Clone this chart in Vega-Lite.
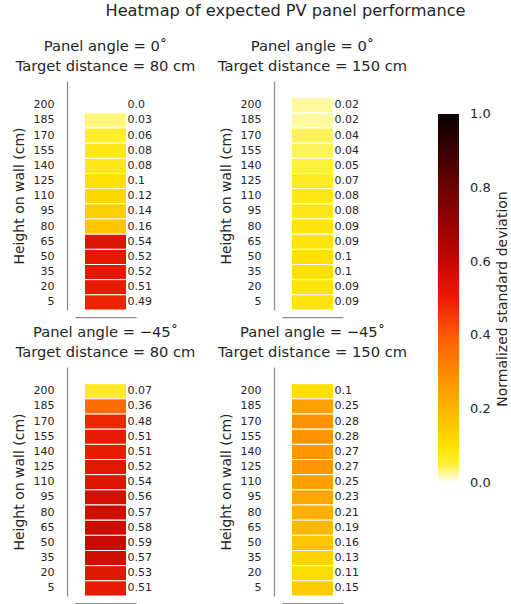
{
  "$schema": "https://vega.github.io/schema/vega-lite/v6.json",
  "background": "white",
  "padding": {"left": 12, "top": 3, "right": 5, "bottom": 5},
  "title": {"text": "Heatmap of expected PV panel performance", "fontSize": 16.2, "font": "DejaVu Sans", "fontWeight": "normal", "color": "#262626", "anchor": "middle", "offset": 20, "dx": 24},
  "datasets": {
    "pv": [
      {"angle": 0, "distance": 80, "height": 200, "nsd": 0.0, "label": "0.0"},
      {"angle": 0, "distance": 80, "height": 185, "nsd": 0.03, "label": "0.03"},
      {"angle": 0, "distance": 80, "height": 170, "nsd": 0.06, "label": "0.06"},
      {"angle": 0, "distance": 80, "height": 155, "nsd": 0.08, "label": "0.08"},
      {"angle": 0, "distance": 80, "height": 140, "nsd": 0.08, "label": "0.08"},
      {"angle": 0, "distance": 80, "height": 125, "nsd": 0.1, "label": "0.1"},
      {"angle": 0, "distance": 80, "height": 110, "nsd": 0.12, "label": "0.12"},
      {"angle": 0, "distance": 80, "height": 95, "nsd": 0.14, "label": "0.14"},
      {"angle": 0, "distance": 80, "height": 80, "nsd": 0.16, "label": "0.16"},
      {"angle": 0, "distance": 80, "height": 65, "nsd": 0.54, "label": "0.54"},
      {"angle": 0, "distance": 80, "height": 50, "nsd": 0.52, "label": "0.52"},
      {"angle": 0, "distance": 80, "height": 35, "nsd": 0.52, "label": "0.52"},
      {"angle": 0, "distance": 80, "height": 20, "nsd": 0.51, "label": "0.51"},
      {"angle": 0, "distance": 80, "height": 5, "nsd": 0.49, "label": "0.49"},
      {"angle": 0, "distance": 150, "height": 200, "nsd": 0.02, "label": "0.02"},
      {"angle": 0, "distance": 150, "height": 185, "nsd": 0.02, "label": "0.02"},
      {"angle": 0, "distance": 150, "height": 170, "nsd": 0.04, "label": "0.04"},
      {"angle": 0, "distance": 150, "height": 155, "nsd": 0.04, "label": "0.04"},
      {"angle": 0, "distance": 150, "height": 140, "nsd": 0.05, "label": "0.05"},
      {"angle": 0, "distance": 150, "height": 125, "nsd": 0.07, "label": "0.07"},
      {"angle": 0, "distance": 150, "height": 110, "nsd": 0.08, "label": "0.08"},
      {"angle": 0, "distance": 150, "height": 95, "nsd": 0.08, "label": "0.08"},
      {"angle": 0, "distance": 150, "height": 80, "nsd": 0.09, "label": "0.09"},
      {"angle": 0, "distance": 150, "height": 65, "nsd": 0.09, "label": "0.09"},
      {"angle": 0, "distance": 150, "height": 50, "nsd": 0.1, "label": "0.1"},
      {"angle": 0, "distance": 150, "height": 35, "nsd": 0.1, "label": "0.1"},
      {"angle": 0, "distance": 150, "height": 20, "nsd": 0.09, "label": "0.09"},
      {"angle": 0, "distance": 150, "height": 5, "nsd": 0.09, "label": "0.09"},
      {"angle": -45, "distance": 80, "height": 200, "nsd": 0.07, "label": "0.07"},
      {"angle": -45, "distance": 80, "height": 185, "nsd": 0.36, "label": "0.36"},
      {"angle": -45, "distance": 80, "height": 170, "nsd": 0.48, "label": "0.48"},
      {"angle": -45, "distance": 80, "height": 155, "nsd": 0.51, "label": "0.51"},
      {"angle": -45, "distance": 80, "height": 140, "nsd": 0.51, "label": "0.51"},
      {"angle": -45, "distance": 80, "height": 125, "nsd": 0.52, "label": "0.52"},
      {"angle": -45, "distance": 80, "height": 110, "nsd": 0.54, "label": "0.54"},
      {"angle": -45, "distance": 80, "height": 95, "nsd": 0.56, "label": "0.56"},
      {"angle": -45, "distance": 80, "height": 80, "nsd": 0.57, "label": "0.57"},
      {"angle": -45, "distance": 80, "height": 65, "nsd": 0.58, "label": "0.58"},
      {"angle": -45, "distance": 80, "height": 50, "nsd": 0.59, "label": "0.59"},
      {"angle": -45, "distance": 80, "height": 35, "nsd": 0.57, "label": "0.57"},
      {"angle": -45, "distance": 80, "height": 20, "nsd": 0.53, "label": "0.53"},
      {"angle": -45, "distance": 80, "height": 5, "nsd": 0.51, "label": "0.51"},
      {"angle": -45, "distance": 150, "height": 200, "nsd": 0.1, "label": "0.1"},
      {"angle": -45, "distance": 150, "height": 185, "nsd": 0.25, "label": "0.25"},
      {"angle": -45, "distance": 150, "height": 170, "nsd": 0.28, "label": "0.28"},
      {"angle": -45, "distance": 150, "height": 155, "nsd": 0.28, "label": "0.28"},
      {"angle": -45, "distance": 150, "height": 140, "nsd": 0.27, "label": "0.27"},
      {"angle": -45, "distance": 150, "height": 125, "nsd": 0.27, "label": "0.27"},
      {"angle": -45, "distance": 150, "height": 110, "nsd": 0.25, "label": "0.25"},
      {"angle": -45, "distance": 150, "height": 95, "nsd": 0.23, "label": "0.23"},
      {"angle": -45, "distance": 150, "height": 80, "nsd": 0.21, "label": "0.21"},
      {"angle": -45, "distance": 150, "height": 65, "nsd": 0.19, "label": "0.19"},
      {"angle": -45, "distance": 150, "height": 50, "nsd": 0.16, "label": "0.16"},
      {"angle": -45, "distance": 150, "height": 35, "nsd": 0.13, "label": "0.13"},
      {"angle": -45, "distance": 150, "height": 20, "nsd": 0.11, "label": "0.11"},
      {"angle": -45, "distance": 150, "height": 5, "nsd": 0.15, "label": "0.15"}
    ]
  },
  "data": {"name": "pv"},
  "columns": 2,
  "spacing": {"row": 57, "column": 146},
  "bounds": "flush",
  "resolve": {"scale": {"color": "shared"}},
  "concat": [
    {
      "title": {"text": ["Panel angle = 0˚", "Target distance = 80 cm"]},
      "width": 61, "height": 229,
      "transform": [{"filter": "datum.angle == 0 && datum.distance == 80"}],
      "encoding": {
        "y": {"field": "height", "type": "ordinal", "sort": "descending", "scale": {"paddingInner": 0, "paddingOuter": 0.55, "align": 1}, "axis": {"title": "Height on wall (cm)"}},
        "x": {"datum": "PV", "type": "nominal", "scale": {"paddingInner": 0, "paddingOuter": 0.226}, "axis": {"labels": false, "title": null}}
      },
      "layer": [
        {"mark": {"type": "rect", "stroke": "white", "strokeWidth": 1},
         "encoding": {"color": {"field": "nsd", "type": "quantitative",
           "scale": {"type": "linear", "interpolate": "rgb",
             "domain": [0, 0.02, 0.05, 0.1, 0.2, 0.3, 0.4, 0.5, 0.6, 0.7, 0.8, 0.9, 1],
             "range": ["#ffffff", "#fff9a0", "#fff03a", "#ffe000", "#ffb300", "#ff8a00", "#ff5a00", "#ec1c00", "#c40800", "#980000", "#6c0000", "#3a0000", "#0a0000"]},
           "legend": {"type": "gradient", "direction": "vertical", "orient": "none", "legendX": 363, "legendY": 33,
             "gradientLength": 369, "gradientThickness": 21, "gradientStrokeWidth": 0,
             "values": [0, 0.2, 0.4, 0.6, 0.8, 1], "format": ".1f", "labelFontSize": 13, "labelColor": "#262626", "labelFont": "DejaVu Sans", "labelOffset": 11, "labelBaseline": "middle",
             "title": "Normalized standard deviation", "titleOrient": "right", "titleAnchor": "middle", "titleFontSize": 14, "titleFontWeight": "normal", "titleColor": "#262626", "titleFont": "DejaVu Sans", "titlePadding": 5, "titleLimit": 500,
             "encode": {"title": {"update": {"angle": {"value": 270}, "baseline": {"value": "top"}}}, "labels": {"update": {"baseline": {"value": "middle"}}}}}}}},
        {"mark": {"type": "text", "align": "left", "baseline": "middle", "dx": 1, "fontSize": 11, "font": "DejaVu Sans", "color": "#262626"},
         "encoding": {"x": {"datum": "PV", "type": "nominal", "bandPosition": 1}, "text": {"field": "label"}}}
      ]
    },
    {
      "title": {"text": ["Panel angle = 0˚", "Target distance = 150 cm"]},
      "width": 61, "height": 229,
      "transform": [{"filter": "datum.angle == 0 && datum.distance == 150"}],
      "encoding": {
        "y": {"field": "height", "type": "ordinal", "sort": "descending", "scale": {"paddingInner": 0, "paddingOuter": 0.55, "align": 1}, "axis": {"title": "Height on wall (cm)"}},
        "x": {"datum": "PV", "type": "nominal", "scale": {"paddingInner": 0, "paddingOuter": 0.226}, "axis": {"labels": false, "title": null}}
      },
      "layer": [
        {"mark": {"type": "rect", "stroke": "white", "strokeWidth": 1},
         "encoding": {"color": {"field": "nsd", "type": "quantitative"}}},
        {"mark": {"type": "text", "align": "left", "baseline": "middle", "dx": 1, "fontSize": 11, "font": "DejaVu Sans", "color": "#262626"},
         "encoding": {"x": {"datum": "PV", "type": "nominal", "bandPosition": 1}, "text": {"field": "label"}}}
      ]
    },
    {
      "title": {"text": ["Panel angle = −45˚", "Target distance = 80 cm"]},
      "width": 61, "height": 229,
      "transform": [{"filter": "datum.angle == -45 && datum.distance == 80"}],
      "encoding": {
        "y": {"field": "height", "type": "ordinal", "sort": "descending", "scale": {"paddingInner": 0, "paddingOuter": 0.55, "align": 1}, "axis": {"title": "Height on wall (cm)"}},
        "x": {"datum": "PV", "type": "nominal", "scale": {"paddingInner": 0, "paddingOuter": 0.226}, "axis": {"labels": false, "title": null}}
      },
      "layer": [
        {"mark": {"type": "rect", "stroke": "white", "strokeWidth": 1},
         "encoding": {"color": {"field": "nsd", "type": "quantitative"}}},
        {"mark": {"type": "text", "align": "left", "baseline": "middle", "dx": 1, "fontSize": 11, "font": "DejaVu Sans", "color": "#262626"},
         "encoding": {"x": {"datum": "PV", "type": "nominal", "bandPosition": 1}, "text": {"field": "label"}}}
      ]
    },
    {
      "title": {"text": ["Panel angle = −45˚", "Target distance = 150 cm"]},
      "width": 61, "height": 229,
      "transform": [{"filter": "datum.angle == -45 && datum.distance == 150"}],
      "encoding": {
        "y": {"field": "height", "type": "ordinal", "sort": "descending", "scale": {"paddingInner": 0, "paddingOuter": 0.55, "align": 1}, "axis": {"title": "Height on wall (cm)"}},
        "x": {"datum": "PV", "type": "nominal", "scale": {"paddingInner": 0, "paddingOuter": 0.226}, "axis": {"labels": false, "title": null}}
      },
      "layer": [
        {"mark": {"type": "rect", "stroke": "white", "strokeWidth": 1},
         "encoding": {"color": {"field": "nsd", "type": "quantitative"}}},
        {"mark": {"type": "text", "align": "left", "baseline": "middle", "dx": 1, "fontSize": 11, "font": "DejaVu Sans", "color": "#262626"},
         "encoding": {"x": {"datum": "PV", "type": "nominal", "bandPosition": 1}, "text": {"field": "label"}}}
      ]
    }
  ],
  "config": {
    "font": "DejaVu Sans",
    "view": {"stroke": null},
    "title": {"fontSize": 14.7, "fontWeight": "normal", "color": "#262626", "font": "DejaVu Sans", "lineHeight": 20, "offset": 7},
    "axis": {"grid": false, "ticks": false, "tickSize": 0, "labelFont": "DejaVu Sans", "labelFontSize": 11, "labelColor": "#262626", "titleFont": "DejaVu Sans", "titleFontSize": 14, "titleFontWeight": "normal", "titleColor": "#262626", "domainColor": "#8c8c8c", "domainWidth": 1.25},
    "axisY": {"offset": 8, "labelPadding": 13, "titlePadding": 7},
    "axisX": {"offset": 7},
    "scale": {"rectBandPaddingInner": 0}
  }
}
